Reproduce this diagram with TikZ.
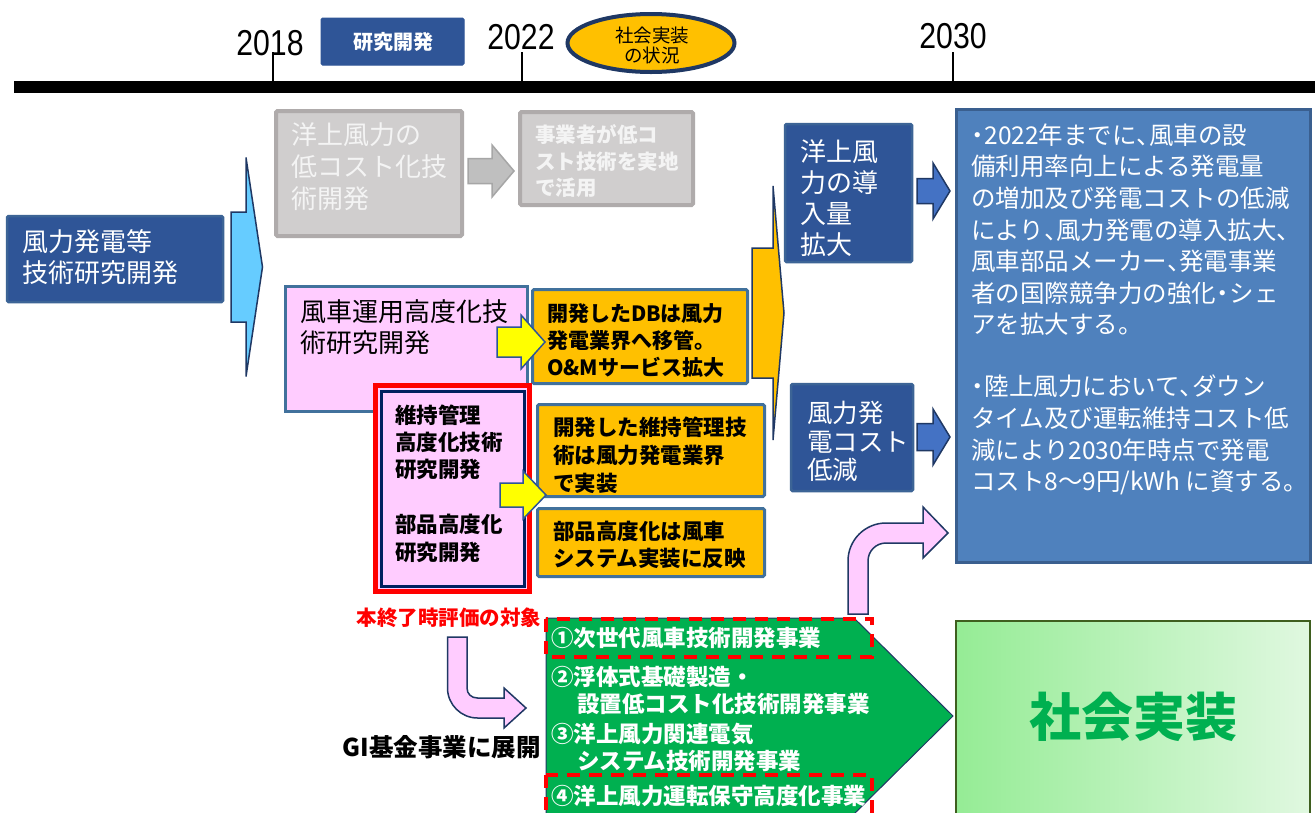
\documentclass[tikz,border=0pt]{standalone}
\usepackage{fontspec}
\setmainfont{Noto Sans CJK JP}
\newfontfamily\yrfont{Liberation Sans}
\usetikzlibrary{shapes.geometric}
\definecolor{dkblue}{HTML}{2F5597}
\definecolor{dkedge}{HTML}{3C6496}
\definecolor{lbfill}{HTML}{66CCFF}
\definecolor{navyedge}{HTML}{1F3864}
\definecolor{grayfill}{HTML}{D0CECE}
\definecolor{grayedge}{HTML}{AFABAB}
\definecolor{grayarrfill}{HTML}{BFBFBF}
\definecolor{grayarredge}{HTML}{A6A6A6}
\definecolor{graytext}{HTML}{F4F4F4}
\definecolor{pinkfill}{HTML}{FFCCFF}
\definecolor{steel}{HTML}{41719C}
\definecolor{goldfill}{HTML}{FFC000}
\definecolor{yel}{HTML}{FFFF00}
\definecolor{midblue}{HTML}{4472C4}
\definecolor{rbfill}{HTML}{4F81BD}
\definecolor{rbedge}{HTML}{3A5F8F}
\definecolor{grn}{HTML}{00B050}
\definecolor{redc}{HTML}{FF0000}
\definecolor{navy}{HTML}{002060}
\definecolor{socl}{HTML}{95EC95}
\definecolor{socr}{HTML}{E0F8E0}
\definecolor{socedge}{HTML}{3F5F1F}
\tikzset{
  boxbase/.style={inner sep=0pt, outer sep=0pt},
  darkbox/.style={boxbase, fill=dkblue, draw=dkedge, line width=2.5pt, rounded corners=1.5pt},
  graybox/.style={boxbase, fill=grayfill, draw=grayedge, line width=4pt, rounded corners=1.5pt},
  pinkbox/.style={boxbase, fill=pinkfill, draw=steel, line width=3pt},
  orangebox/.style={boxbase, fill=goldfill, draw=steel, line width=3pt, rounded corners=1.5pt},
  redframe/.style={boxbase, fill=pinkfill, draw=redc, line width=5pt},
  navyframe/.style={boxbase, fill=pinkfill, draw=navy, line width=3pt},
  rightbox/.style={boxbase, fill=rbfill, draw=rbedge, line width=3pt},
  socbox/.style={boxbase, left color=socl, right color=socr, draw=socedge, line width=2pt},
  lbarrow/.style={fill=lbfill, draw=navyedge, line width=1.5pt, line join=miter},
  grarrow/.style={fill=grayarrfill, draw=grayarredge, line width=1.5pt},
  yarrow/.style={fill=yel, draw=dkblue, line width=1.5pt},
  goldarrow/.style={fill=goldfill, draw=navyedge, line width=1.5pt},
  barrow/.style={fill=midblue, draw=navyedge, line width=1.5pt},
  parrow/.style={fill=pinkfill, draw=navyedge, line width=1.5pt},
  greenarrow/.style={fill=grn, draw=navyedge, line width=1pt},
  reddash/.style={draw=redc, line width=4pt, dash pattern=on 13pt off 9pt},
  txt/.style={inner sep=0pt, outer sep=0pt, anchor=west, align=left},
  yeartxt/.style={inner sep=0pt, font=\yrfont\fontsize{36}{40}\selectfont},
}
\newcommand\bx[6]{\node[#1, anchor=north west, minimum width={#5pt-#3pt}, minimum height={#6pt-#4pt}] (#2) at (#3,#4) {};}
\newcommand\blkarrow[7]{\draw[#1] (#2,{#5-#6}) -- (#3,{#5-#6}) -- (#3,{#5-#7}) -- (#4,#5) -- (#3,{#5+#7}) -- (#3,{#5+#6}) -- (#2,{#5+#6}) -- cycle;}
\newcommand\nc[1]{\makebox[0.5em][l]{#1}}
\newcommand\nd{\makebox[0.55em][c]{・}}
\begin{document}
\begin{tikzpicture}[x=1pt,y=-1pt]
\useasboundingbox (0,0) rectangle (1315,812);
\fill[white] (0,0) rectangle (1315,812);

% timeline
\coordinate (tl0) at (14,87);
\coordinate (tl1) at (1316,87);
\draw[line width=12pt] (tl0) -- (tl1);
\coordinate (t18a) at (273,52); \coordinate (t18b) at (273,82);
\coordinate (t22a) at (522,52); \coordinate (t22b) at (522,82);
\coordinate (t30a) at (953,52); \coordinate (t30b) at (953,82);
\draw[line width=2.2pt] (t18a) -- (t18b);
\draw[line width=2.2pt] (t22a) -- (t22b);
\draw[line width=2.2pt] (t30a) -- (t30b);
\node[yeartxt] (y2018) at (270,43) {\scalebox{0.84}[1]{2018}};
\node[yeartxt] (y2022) at (521,37) {\scalebox{0.84}[1]{2022}};
\node[yeartxt] (y2030) at (953,36) {\scalebox{0.84}[1]{2030}};

% legend
\bx{darkbox, line width=1pt, draw=dkblue}{kenkyu}{321}{18}{464}{65}
\node[txt, anchor=center, text=white, font=\bfseries\fontsize{20}{24}\selectfont] (kenkyutxt) at (393,42) {研究開発};
\node[ellipse, draw=navyedge, fill=goldfill, line width=4pt, minimum width=167pt, minimum height=58pt, inner sep=0pt] (jokyo) at (651,43) {};
\node[inner sep=0pt, align=center, font=\fontsize{18.5}{20}\selectfont] (jokyotxt) at (652,45) {社会実装\\の状況};

% left box
\bx{darkbox}{leftbox}{7}{216}{223}{302}
\node[txt, text=white, font=\fontsize{26}{31}\selectfont] (lefttxt) at (22,257.5) {風力発電等\\技術研究開発};
\blkarrow{lbarrow}{231}{246}{262.5}{267}{55}{109.5}

% gray row
\bx{graybox}{gray1}{276}{111}{462}{236}
\node[txt, text=graytext, font=\fontsize{26}{32}\selectfont] (gray1txt) at (291,167) {洋上風力の\\低コスト化技\\術開発};
\bx{graybox}{gray2}{520}{112}{693}{205}
\node[txt, text=graytext, font=\bfseries\fontsize{20.5}{26.5}\selectfont] (gray2txt) at (535,161.5) {事業者が低コ\\スト技術を実地\\で活用};
\blkarrow{grarrow}{468}{492}{514}{171}{12.5}{26}

% pink row
\bx{pinkbox}{pinkA}{285.5}{286.5}{527.5}{411.5}
\node[txt, font=\fontsize{26}{31}\selectfont] (pinkAtxt) at (300,327.5) {風車運用高度化技\\術研究開発};
\bx{orangebox}{orange1}{532.5}{289.5}{747.5}{383.5}
\node[txt, font=\bfseries\fontsize{21}{27}\selectfont] (orange1txt) at (547,341) {開発したDBは風力\\発電業界へ移管。\\O\&Mサービス拡大};

% red frame
\bx{redframe}{redbox}{375.5}{385.5}{529.5}{591.5}
\bx{navyframe}{navybox}{381.5}{391.5}{524.5}{586.5}
\node[txt, font=\bfseries\fontsize{21.5}{27}\selectfont] (navytxt1) at (395,442) {維持管理\\高度化技術\\研究開発};
\node[txt, font=\bfseries\fontsize{21.5}{28}\selectfont] (navytxt2) at (395,538) {部品高度化\\研究開発};
\bx{orangebox}{orange2}{537.5}{404.5}{764.5}{496.5}
\node[txt, font=\bfseries\fontsize{21.5}{28}\selectfont] (orange2txt) at (553,455) {開発した維持管理技\\術は風力発電業界\\で実装};
\bx{orangebox}{orange3}{537.5}{508.5}{764.5}{576.5}
\node[txt, font=\bfseries\fontsize{21.5}{27}\selectfont] (orange3txt) at (553,545) {部品高度化は風車\\システム実装に反映};
\blkarrow{yarrow}{497}{521}{545}{342}{15}{27}
\blkarrow{yarrow}{500}{523}{546}{495}{12}{24}

% gold arrow and outcome boxes
\blkarrow{goldarrow}{752}{773}{784}{313}{65}{127}
\bx{darkbox}{windbox}{785}{124}{912}{262}
\node[txt, text=white, font=\fontsize{26}{31}\selectfont] (windtxt) at (800,198.5) {洋上風\\力の導\\入量\\拡大};
\bx{darkbox}{costbox}{791}{384}{913}{491}
\node[txt, text=white, font=\fontsize{25.5}{28.5}\selectfont] (costtxt) at (807,441.5) {風力発\\電コスト\\低減};
\blkarrow{barrow}{917}{933}{950}{191}{12.5}{28}
\blkarrow{barrow}{917}{933}{950}{437}{13.5}{28}

% right box
\bx{rightbox}{rbox}{956.5}{109.5}{1310.5}{562.5}
\node[txt, text=white, font=\fontsize{24.5}{31.6}\selectfont] (rtxt1) at (971,229.8) {\nd 2022年までに\nc{、}風車の設\\備利用率向上による発電量\\の増加及び発電コストの低減\\により\nc{、}風力発電の導入拡大\nc{、}\\風車部品メーカー\nc{、}発電事業\\者の国際競争力の強化\nd シェ\\アを拡大する。};
\node[txt, text=white, font=\fontsize{24.5}{31.6}\selectfont] (rtxt2) at (971,435.2) {\nd 陸上風力において\nc{、}ダウン\\タイム及び運転維持コスト低\\減により2030年時点で発電\\コスト8～9円/kWh に資する。};

% pink bent arrow (right)
\draw[parrow] (848,614) -- (848,561) .. controls (848,540) and (865,523) .. (886,523) -- (923,523) -- (923,507) -- (948,533) -- (923,558) -- (923,543) -- (886,543) .. controls (876,543) and (868,551) .. (868,561) -- (868,614) -- cycle;

% bottom part
\node[inner sep=0pt, text=redc, font=\bfseries\fontsize{20.5}{24}\selectfont] (hyoka) at (449,618) {本終了時評価の対象};
\draw[parrow] (447.5,637) -- (467,637) -- (467,688) .. controls (467,694) and (471.5,698) .. (477.5,698) -- (504,698) -- (504,688) -- (526,708) -- (504,728) -- (504,718) -- (477.5,718) .. controls (461,718) and (447.5,704.5) .. (447.5,688) -- cycle;
\node[inner sep=0pt, anchor=east, font=\bfseries\fontsize{24.5}{28}\selectfont] (gitxt) at (541,747) {GI基金事業に展開};

\draw[greenarrow] (546,618) -- (854,618) -- (953,716) -- (854,814) -- (546,814) -- cycle;
\draw[reddash] (546,619) rectangle (872,657);
\draw[reddash] (546,775) rectangle (872,818);
\node[txt, text=white, font=\bfseries\fontsize{22.5}{26}\selectfont] (g1) at (551,638) {①次世代風車技術開発事業};
\node[txt, text=white, font=\bfseries\fontsize{22.5}{26}\selectfont] (g2) at (551,677) {②浮体式基礎製造・};
\node[txt, text=white, font=\bfseries\fontsize{22.5}{26}\selectfont] (g2b) at (577,704) {設置低コスト化技術開発事業};
\node[txt, text=white, font=\bfseries\fontsize{22.5}{26}\selectfont] (g3) at (551,734) {③洋上風力関連電気};
\node[txt, text=white, font=\bfseries\fontsize{22.5}{26}\selectfont] (g3b) at (577,761) {システム技術開発事業};
\node[txt, text=white, font=\bfseries\fontsize{22.5}{26}\selectfont] (g4) at (551,796) {④洋上風力運転保守高度化事業};

\bx{socbox}{social}{956}{621}{1310}{830}
\node[inner sep=0pt, text=grn, font=\bfseries\fontsize{52}{60}\selectfont] (socialtxt) at (1133,717) {社会実装};
\end{tikzpicture}
\end{document}
